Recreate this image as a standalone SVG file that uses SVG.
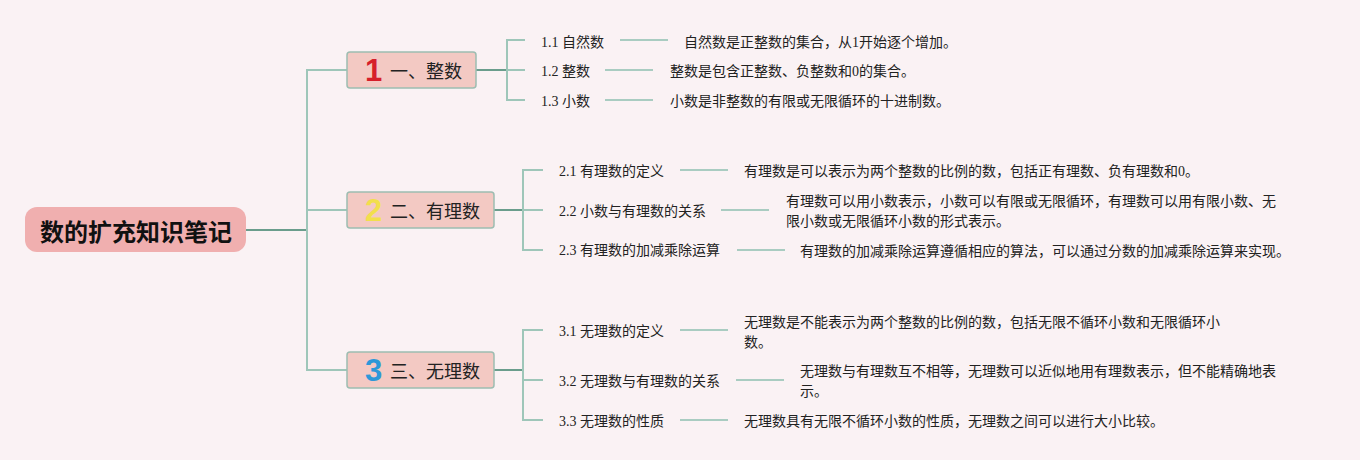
<svg xmlns="http://www.w3.org/2000/svg" width="1360" height="460" viewBox="0 0 1360 460">
<style>
.t{font-family:"Liberation Serif","Noto Sans CJK SC",serif;font-size:14px;fill:#222;dominant-baseline:central}
.bl{font-family:"Noto Sans CJK SC",sans-serif;font-size:18px;fill:#222;dominant-baseline:central}
.num{font-family:"Liberation Sans","DejaVu Sans",sans-serif;font-size:31px;font-weight:bold;dominant-baseline:central}
.root{font-family:"Noto Sans CJK SC",sans-serif;font-size:24px;font-weight:bold;fill:#111;dominant-baseline:central;text-anchor:middle}
.bn{fill:#f3c9c3;stroke:#9dbdb1;stroke-width:1.5}
.ln{fill:none;stroke:#9ec6b9;stroke-width:2}
.dk{fill:none;stroke:#6a9d8c;stroke-width:2}
.lt{fill:none;stroke:#a9ccc1;stroke-width:2}
</style>
<rect width="1360" height="460" fill="#faf2f4"/>
<g id="connectors">
<path class="dk" d="M246 230H307"/>
<path class="ln" d="M347 70H307V370H347M307 210H347"/>
<path class="dk" d="M476 70H507"/>
<path class="ln" d="M525 40H507V100H525M507 70H525"/>
<path class="dk" d="M494 210H523"/>
<path class="ln" d="M543 170H523V250H543M523 210H543"/>
<path class="dk" d="M494 370H523"/>
<path class="ln" d="M543 330H523V420H543M523 380H543"/>
<path class="lt" d="M620 40H668M605 70H653M605 100H653"/>
<path class="lt" d="M680 170H728M721 210H769M737 250H785"/>
<path class="lt" d="M680 330H728M736 380H784M680 420H728"/>
</g>
<g id="root">
<rect x="25" y="207" width="221" height="45" rx="12" fill="#f0afaf"/>
<text class="root" x="136" y="230">数的扩充知识笔记</text>
</g>
<g id="b1">
<rect class="bn" x="347" y="52" width="129" height="36" rx="3"/>
<text class="num" x="365" y="70" fill="#d61f2b">1</text>
<text class="bl" x="390" y="70">一、整数</text>
</g>
<g id="b2">
<rect class="bn" x="347" y="192" width="147" height="36" rx="3"/>
<text class="num" x="365" y="210" fill="#f2df4c">2</text>
<text class="bl" x="390" y="210">二、有理数</text>
</g>
<g id="b3">
<rect class="bn" x="347" y="352" width="147" height="36" rx="3"/>
<text class="num" x="365" y="370" fill="#2d98d8">3</text>
<text class="bl" x="390" y="370">三、无理数</text>
</g>
<g id="s11"><text class="t" x="541" y="42">1.1 自然数</text></g>
<g id="d11"><text class="t" x="684" y="42">自然数是正整数的集合，从1开始逐个增加。</text></g>
<g id="s12"><text class="t" x="541" y="71">1.2 整数</text></g>
<g id="d12"><text class="t" x="670" y="71">整数是包含正整数、负整数和0的集合。</text></g>
<g id="s13"><text class="t" x="541" y="101">1.3 小数</text></g>
<g id="d13"><text class="t" x="670" y="101">小数是非整数的有限或无限循环的十进制数。</text></g>
<g id="s21"><text class="t" x="559" y="171">2.1 有理数的定义</text></g>
<g id="d21"><text class="t" x="744" y="171">有理数是可以表示为两个整数的比例的数，包括正有理数、负有理数和0。</text></g>
<g id="s22"><text class="t" x="559" y="211">2.2 小数与有理数的关系</text></g>
<g id="d22"><text class="t" x="786" y="201">有理数可以用小数表示，小数可以有限或无限循环，有理数可以用有限小数、无</text><text class="t" x="786" y="221">限小数或无限循环小数的形式表示。</text></g>
<g id="s23"><text class="t" x="559" y="250">2.3 有理数的加减乘除运算</text></g>
<g id="d23"><text class="t" x="800" y="251">有理数的加减乘除运算遵循相应的算法，可以通过分数的加减乘除运算来实现。</text></g>
<g id="s31"><text class="t" x="559" y="331">3.1 无理数的定义</text></g>
<g id="d31"><text class="t" x="744" y="322">无理数是不能表示为两个整数的比例的数，包括无限不循环小数和无限循环小</text><text class="t" x="744" y="342">数。</text></g>
<g id="s32"><text class="t" x="559" y="381">3.2 无理数与有理数的关系</text></g>
<g id="d32"><text class="t" x="800" y="371">无理数与有理数互不相等，无理数可以近似地用有理数表示，但不能精确地表</text><text class="t" x="800" y="391">示。</text></g>
<g id="s33"><text class="t" x="559" y="421">3.3 无理数的性质</text></g>
<g id="d33"><text class="t" x="744" y="421">无理数具有无限不循环小数的性质，无理数之间可以进行大小比较。</text></g>
</svg>
